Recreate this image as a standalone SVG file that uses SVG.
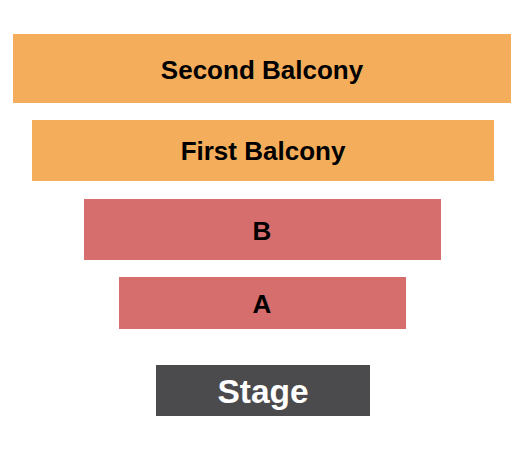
<svg xmlns="http://www.w3.org/2000/svg" width="525" height="450" viewBox="0 0 525 450">
<style>
.bal{fill:#F3AD5B}
.flr{fill:#D66E6E}
.stg{fill:#4B4A4D}
.lbl{font-family:"Liberation Sans",Arial,sans-serif;font-weight:bold;font-size:26px;fill:#000;text-anchor:middle;dominant-baseline:central}
.slbl{font-family:"Liberation Sans",Arial,sans-serif;font-weight:bold;font-size:33.5px;fill:#fff;text-anchor:middle;dominant-baseline:central}
</style>
<rect width="525" height="450" fill="#fff"/>
<g id="second-balcony"><rect class="bal" x="13" y="34" width="498" height="69"/><text class="lbl" x="262" y="70">Second Balcony</text></g>
<g id="first-balcony"><rect class="bal" x="32" y="120" width="462" height="61"/><text class="lbl" x="263" y="151">First Balcony</text></g>
<g id="section-b"><rect class="flr" x="84" y="199" width="357" height="61"/><text class="lbl" x="262" y="231">B</text></g>
<g id="section-a"><rect class="flr" x="119" y="277" width="287" height="52"/><text class="lbl" x="262" y="304">A</text></g>
<g id="stage"><rect class="stg" x="156" y="365" width="214" height="51"/><text class="slbl" x="263" y="391">Stage</text></g>
<g id="connectors"/>
</svg>
